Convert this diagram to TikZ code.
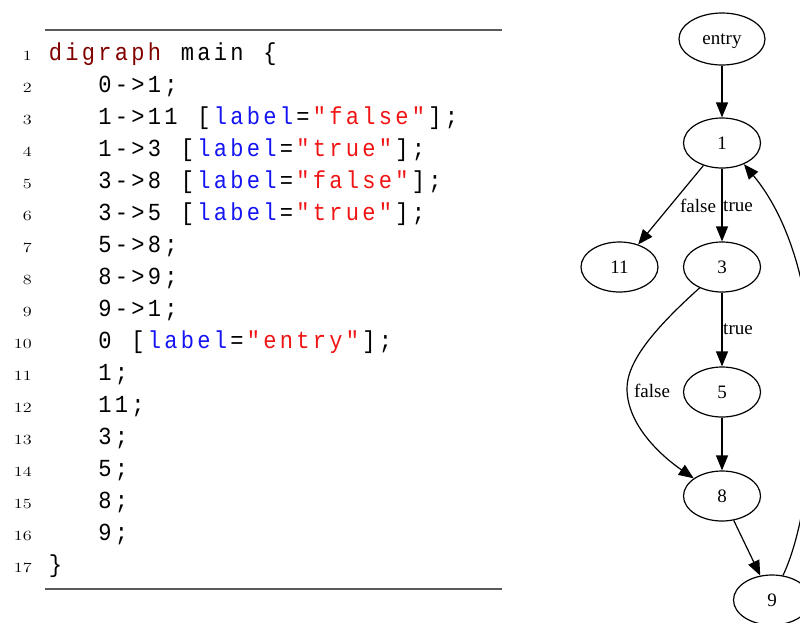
\documentclass[tikz,border=0pt]{standalone}
\usepackage{fontspec}
\usetikzlibrary{arrows.meta,shapes.geometric}
\newfontfamily\codefont{Liberation Mono}
\newfontfamily\gvfont{Liberation Serif}
\definecolor{kwred}{RGB}{128,0,0}
\definecolor{attrblue}{RGB}{20,20,245}
\definecolor{strred}{RGB}{240,20,20}
\definecolor{rulegray}{RGB}{90,90,90}
\makeatletter
% fixed-pitch columns: every character sits in its own box
\newcommand\cseq[1]{\@tfor\cseq@ch:=#1\do{\makebox[16.5pt][c]{\scalebox{0.9}[1]{\cseq@ch}}}}
\makeatother
\newcommand\ckw[1]{{\color{kwred}\cseq{#1}}}
\newcommand\cattr[1]{{\color{attrblue}\cseq{#1}}}
\newcommand\cstr[1]{{\color{strred}\cseq{#1}}}
\tikzset{
  codeline/.style={anchor=base west, inner sep=0pt, font=\fontsize{24.5}{29}\codefont},
  lnum/.style={anchor=base east, inner sep=0pt, font=\fontsize{14}{16}\selectfont},
  rulestyle/.style={draw=rulegray, line width=1.3pt},
  gnode/.style={ellipse, draw, line width=1.2pt, minimum width=77pt, minimum height=50pt,
    inner sep=0pt, font=\fontsize{19}{22}\gvfont},
  arr/.style={line width=1.2pt, -{Triangle[length=15pt,width=12pt]}},
  elabel/.style={inner sep=0pt, font=\fontsize{19}{22}\gvfont},
}
\begin{document}
\begin{tikzpicture}[x=1pt, y=-1pt]
\useasboundingbox (0,0) rectangle (800,622);
\clip (0,0) rectangle (800,622);

% listing frame rules
\draw[rulestyle] (45,30) -- (502,30);
\draw[rulestyle] (45,589) -- (502,589);

% line numbers
\foreach \i in {1,...,17}
  \node[lnum] (ln\i) at (32, {60.7+(\i-1)*32}) {\scalebox{1.3}[1]{\i}};

% code lines
\node[codeline] (c1)  at (47, 60.7)  {\ckw{digraph}\cseq{~main~\{}};
\node[codeline] (c2)  at (47, 92.7)  {\cseq{~~~0->1;}};
\node[codeline] (c3)  at (47, 124.7) {\cseq{~~~1->11~[}\cattr{label}\cseq{=}\cstr{"false"}\cseq{];}};
\node[codeline] (c4)  at (47, 156.7) {\cseq{~~~1->3~[}\cattr{label}\cseq{=}\cstr{"true"}\cseq{];}};
\node[codeline] (c5)  at (47, 188.7) {\cseq{~~~3->8~[}\cattr{label}\cseq{=}\cstr{"false"}\cseq{];}};
\node[codeline] (c6)  at (47, 220.7) {\cseq{~~~3->5~[}\cattr{label}\cseq{=}\cstr{"true"}\cseq{];}};
\node[codeline] (c7)  at (47, 252.7) {\cseq{~~~5->8;}};
\node[codeline] (c8)  at (47, 284.7) {\cseq{~~~8->9;}};
\node[codeline] (c9)  at (47, 316.7) {\cseq{~~~9->1;}};
\node[codeline] (c10) at (47, 348.7) {\cseq{~~~0~[}\cattr{label}\cseq{=}\cstr{"entry"}\cseq{];}};
\node[codeline] (c11) at (47, 380.7) {\cseq{~~~1;}};
\node[codeline] (c12) at (47, 412.7) {\cseq{~~~11;}};
\node[codeline] (c13) at (47, 444.7) {\cseq{~~~3;}};
\node[codeline] (c14) at (47, 476.7) {\cseq{~~~5;}};
\node[codeline] (c15) at (47, 508.7) {\cseq{~~~8;}};
\node[codeline] (c16) at (47, 540.7) {\cseq{~~~9;}};
\node[codeline] (c17) at (47, 572.7) {\cseq{\}}};

% graph nodes
\node[gnode, minimum width=86pt, minimum height=52pt, text depth=0pt] (entry) at (722,39) {entry};
\node[gnode] (n1)  at (722,143)   {1};
\node[gnode] (n11) at (619.5,267) {11};
\node[gnode] (n3)  at (722,267)   {3};
\node[gnode] (n5)  at (722,392)   {5};
\node[gnode] (n8)  at (722,496)   {8};
\node[gnode] (n9)  at (772,600)   {9};

% graph edges
\draw[arr] (entry) -- (n1);
\draw[arr] (n1) -- (n11);
\draw[arr] (n1) -- (n3);
\draw[arr] (n3) -- (n5);
\draw[arr] (n5) -- (n8);
\draw[arr] (n8) -- (n9);
\draw[arr] (n3.-137) .. controls (655,328) and (626,362) .. (627,390)
  .. controls (628,425) and (660,455) .. (n8.148);
\draw[arr] (n9.66) .. controls (800,540) and (813,470) .. (813,390)
  .. controls (813,300) and (792,222) .. (n1.-44);

% edge labels
\node[elabel] (lf1) at (698,206) {false};
\node[elabel] (lt1) at (738,206) {true};
\node[elabel] (lt2) at (738,329) {true};
\node[elabel] (lf2) at (652,391) {false};
\end{tikzpicture}
\end{document}
